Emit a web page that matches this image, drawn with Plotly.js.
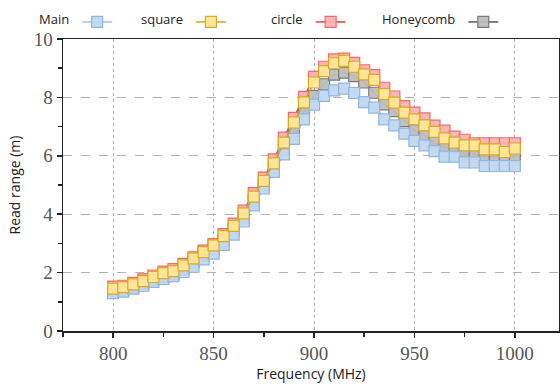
<!DOCTYPE html>
<html>
<head>
<meta charset="utf-8">
<script src="https://cdn.plot.ly/plotly-3.0.1.min.js"></script>
<style>html,body{margin:0;padding:0;background:#fff;}#chart{width:560px;height:387px;}</style>
</head>
<body>
<div id="chart"></div>
<script>
const freq = [800,805,810,815,820,825,830,835,840,845,850,855,860,865,870,875,880,885,890,895,900,905,910,915,920,925,930,935,940,945,950,955,960,965,970,975,980,985,990,995,1000];
const seriesNames = ["Main", "square", "circle", "Honeycomb"];
const mainVals = [1.30,1.35,1.45,1.55,1.68,1.78,1.88,2.02,2.20,2.45,2.65,2.95,3.30,3.75,4.30,4.88,5.45,6.05,6.58,7.25,7.75,8.05,8.24,8.30,8.15,7.84,7.65,7.25,7.04,6.76,6.51,6.36,6.16,5.97,5.97,5.77,5.77,5.65,5.65,5.65,5.65];
const squareVals = [1.45,1.50,1.60,1.71,1.85,1.98,2.05,2.25,2.49,2.70,2.93,3.25,3.60,4.03,4.60,5.14,5.74,6.45,7.14,7.83,8.51,8.90,9.17,9.25,9.05,8.79,8.60,8.11,7.82,7.48,7.25,7.04,6.82,6.60,6.45,6.36,6.36,6.22,6.22,6.13,6.25];
const circleVals = [1.52,1.55,1.65,1.77,1.90,2.03,2.12,2.30,2.52,2.75,2.98,3.32,3.68,4.12,4.72,5.25,5.88,6.62,7.30,8.02,8.70,9.05,9.30,9.33,9.18,8.93,8.76,8.33,8.03,7.70,7.48,7.28,7.03,6.86,6.66,6.55,6.43,6.43,6.43,6.43,6.43];
const honeyVals = [1.38,1.40,1.50,1.62,1.75,1.86,1.95,2.12,2.35,2.58,2.80,3.10,3.45,3.88,4.45,5.00,5.58,6.20,6.85,7.50,8.05,8.45,8.78,8.85,8.73,8.51,8.16,7.76,7.53,7.19,6.88,6.68,6.45,6.28,6.28,6.05,6.05,5.97,5.97,5.97,5.97];
const xTicks = [800,850,900,950,1000];
const yTicks = [0,2,4,6,8,10];

function tr(idx, y, line, fill, edge, legendId) {
  return {
    type: 'scatter', mode: 'lines+markers', x: freq, y: y, name: '',
    meta: seriesNames[idx],
    legend: legendId,
    line: {color: line, width: 1.5},
    marker: {symbol: 'square', size: 11, color: fill, line: {color: edge, width: 1.2}}
  };
}
const data = [
  tr(2, circleVals, '#f03c3c', 'rgba(248,180,182,0.95)', '#f06a6a', 'legend3'),
  tr(3, honeyVals, '#5a5a5a', 'rgba(190,190,190,0.95)', '#7a7a7a', 'legend4'),
  tr(0, mainVals, '#9dc3e6', 'rgba(194,216,240,0.95)', '#8fb5e0', 'legend'),
  tr(1, squareVals, '#d6a21e', 'rgba(255,230,150,0.97)', '#d9a72a', 'legend2')
];

function leg(xpx, title) {
  return {
    xref: 'container', yref: 'container', x: xpx / 560, y: 1 - 22 / 387,
    xanchor: 'left', yanchor: 'middle', orientation: 'h',
    bgcolor: 'rgba(0,0,0,0)', borderwidth: 0,
    font: {family: 'Open Sans', size: 13, color: '#222'},
    title: {text: title, side: 'left', font: {family: 'Open Sans', size: 13, color: '#222'}},
    itemclick: false, itemdoubleclick: false
  };
}

const tickFont = {family: 'Liberation Serif', size: 19, color: '#555'};
const layout = {
  width: 560, height: 387,
  margin: {l: 63, r: 1, t: 39, b: 56},
  paper_bgcolor: '#fff', plot_bgcolor: '#fff',
  showlegend: true,
  legend: leg(37, seriesNames[0]),
  legend2: leg(139, seriesNames[1]),
  legend3: leg(269, seriesNames[2]),
  legend4: leg(380, seriesNames[3]),
  xaxis: {
    range: [775, 1022], tickvals: xTicks, ticktext: xTicks.map(String),
    ticks: 'outside', ticklen: 5, tickwidth: 1.5, tickcolor: '#222',
    minor: {dtick: 25, tick0: 775, ticks: 'outside', ticklen: 4, tickwidth: 1.5, tickcolor: '#222', showgrid: false},
    showline: true, linecolor: '#222', linewidth: 1.5, mirror: true,
    showgrid: true, gridcolor: '#b0b0b0', griddash: 'dot', gridwidth: 1,
    zeroline: false,
    tickfont: tickFont,
    title: {text: 'Frequency (MHz)', standoff: 6, font: {family: 'Open Sans', size: 14, color: '#222'}}
  },
  yaxis: {
    range: [0, 10], tickvals: yTicks, ticktext: yTicks.map(String),
    ticks: 'outside', ticklen: 5, tickwidth: 1.5, tickcolor: '#222',
    minor: {dtick: 1, tick0: 0, ticks: 'outside', ticklen: 4, tickwidth: 1.5, tickcolor: '#222', showgrid: false},
    showline: true, linecolor: '#222', linewidth: 1.5, mirror: true,
    showgrid: true, gridcolor: '#b0b0b0', griddash: 'dash', gridwidth: 1,
    zeroline: false,
    tickfont: tickFont,
    title: {text: 'Read range (m)', standoff: 10, font: {family: 'Open Sans', size: 14, color: '#222'}}
  }
};
Plotly.newPlot('chart', data, layout, {displayModeBar: false, staticPlot: true});
</script>
</body>
</html>
